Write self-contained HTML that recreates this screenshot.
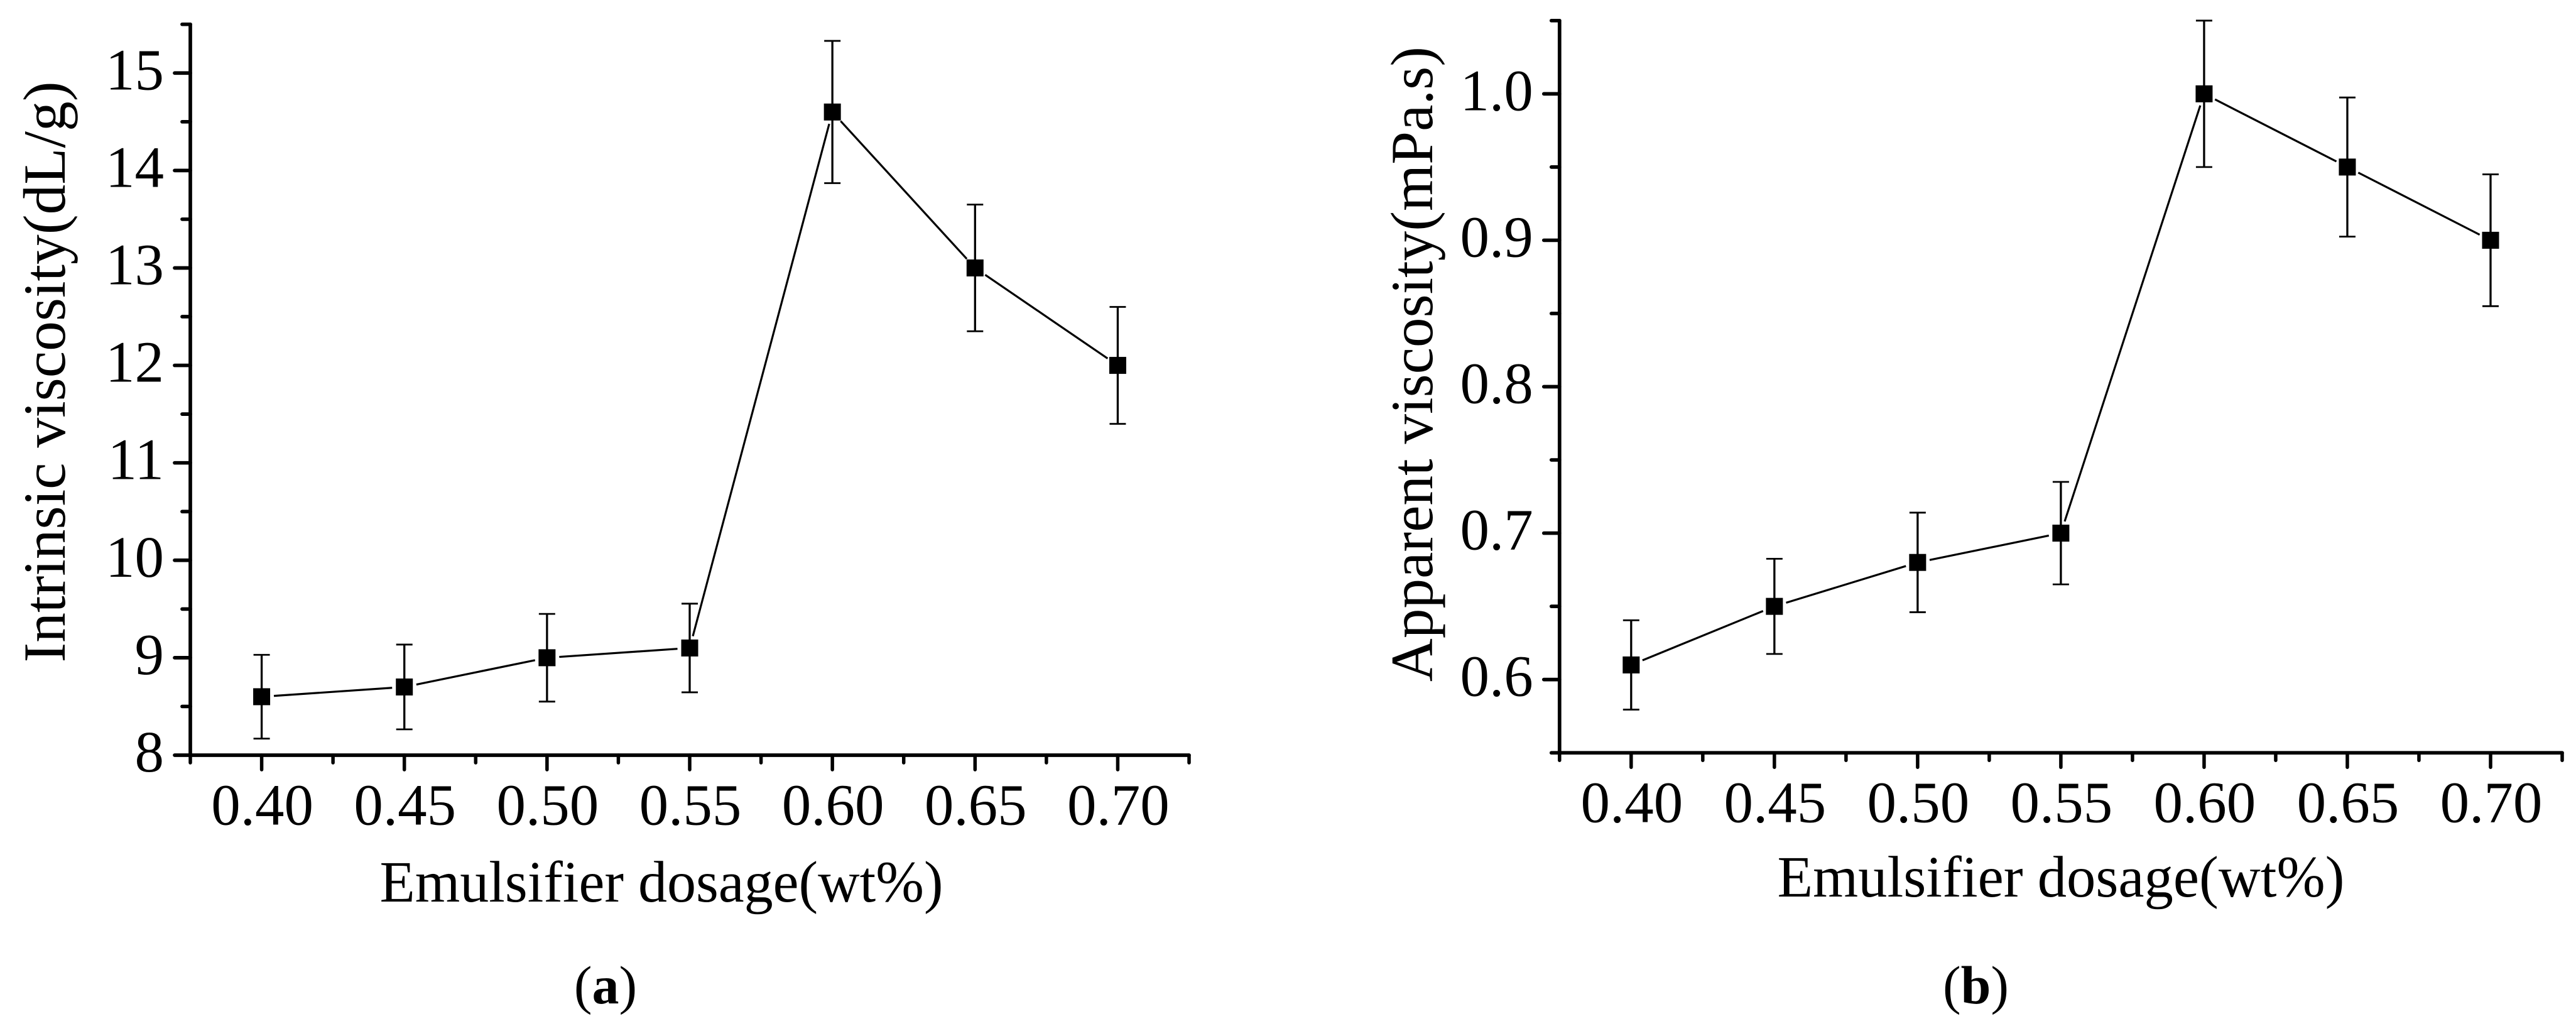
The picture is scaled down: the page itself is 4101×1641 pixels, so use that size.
<!DOCTYPE html>
<html lang="en">
<head>
<meta charset="utf-8">
<title>Viscosity vs emulsifier dosage</title>
<style>
  html, body { margin: 0; padding: 0; background: #fff; }
  svg { display: block; }
  text { font-family: "Liberation Serif", "Times New Roman", serif; fill: #000; }
</style>
</head>
<body>
<svg id="figure" xmlns="http://www.w3.org/2000/svg" width="4101" height="1641" viewBox="0 0 4101 1641">
  <rect x="0" y="0" width="4101" height="1641" fill="#fff"/>
  <g id="panel-a">
    <text transform="translate(103 592) rotate(-90)" text-anchor="middle" font-size="95" textLength="925" lengthAdjust="spacingAndGlyphs">Intrinsic viscosity(dL/g)</text>
    <text x="1053" y="1435" text-anchor="middle" font-size="93" textLength="897" lengthAdjust="spacingAndGlyphs">Emulsifier dosage(wt%)</text>
    <text x="964" y="1597" text-anchor="middle" font-size="86">(<tspan font-weight="bold">a</tspan>)</text>
  </g>
  <g id="panel-b">
    <text transform="translate(2280 579.5) rotate(-90)" text-anchor="middle" font-size="95" textLength="1011" lengthAdjust="spacingAndGlyphs">Apparent viscosity(mPa.s)</text>
    <text x="3281" y="1427" text-anchor="middle" font-size="93" textLength="903" lengthAdjust="spacingAndGlyphs">Emulsifier dosage(wt%)</text>
    <text x="3145.5" y="1597" text-anchor="middle" font-size="86">(<tspan font-weight="bold">b</tspan>)</text>
  </g>
</svg>
<script>
const dosageCategories = [0.40, 0.45, 0.50, 0.55, 0.60, 0.65, 0.70];
const xTickLabels = ["0.40", "0.45", "0.50", "0.55", "0.60", "0.65", "0.70"];
const xMinorValues = [0.375, 0.425, 0.475, 0.525, 0.575, 0.625, 0.675, 0.725];

const intrinsicViscosity = [8.6, 8.7, 9.0, 9.1, 14.6, 13.0, 12.0];
const intrinsicError = [0.43, 0.435, 0.45, 0.455, 0.73, 0.65, 0.60];
const intrinsicTickValues = [8, 9, 10, 11, 12, 13, 14, 15];
const intrinsicTickLabels = ["8", "9", "10", "11", "12", "13", "14", "15"];
const intrinsicMinorValues = [8.5, 9.5, 10.5, 11.5, 12.5, 13.5, 14.5, 15.5];

const apparentViscosity = [0.61, 0.65, 0.68, 0.70, 1.00, 0.95, 0.90];
const apparentError = [0.0305, 0.0325, 0.034, 0.035, 0.05, 0.0475, 0.045];
const apparentTickValues = [0.6, 0.7, 0.8, 0.9, 1.0];
const apparentTickLabels = ["0.6", "0.7", "0.8", "0.9", "1.0"];
const apparentMinorValues = [0.55, 0.65, 0.75, 0.85, 0.95, 1.05];

const SVG_NS = "http://www.w3.org/2000/svg";

function addLine(parent, x1, y1, x2, y2, width, rounded) {
  const el = document.createElementNS(SVG_NS, "line");
  el.setAttribute("x1", x1);
  el.setAttribute("y1", y1);
  el.setAttribute("x2", x2);
  el.setAttribute("y2", y2);
  el.setAttribute("stroke", "#000");
  el.setAttribute("stroke-width", width);
  if (rounded) el.setAttribute("stroke-linecap", "round");
  parent.appendChild(el);
  return el;
}

function drawPanel(panel, cfg) {
  const xScale = v => cfg.x0 + (v - cfg.xMin) / (cfg.xMax - cfg.xMin) * (cfg.x1 - cfg.x0);
  const yScale = v => cfg.y0 + (v - cfg.yMin) / (cfg.yMax - cfg.yMin) * (cfg.y1 - cfg.y0);
  const axisY = yScale(cfg.yMin);
  const axisX = xScale(cfg.xMin);

  // y axis
  const yAxis = addLine(panel, axisX, yScale(cfg.yMax), axisX, axisY, 5.7, true);
  
  
  cfg.yTicks.forEach((v, i) => {
    const tick = addLine(panel, axisX - 25, yScale(v), axisX, yScale(v), 5.7, true);
    
    
    const label = document.createElementNS(SVG_NS, "text");
    label.setAttribute("x", axisX - 42);
    label.setAttribute("y", yScale(v) + 26);
    label.setAttribute("text-anchor", "end");
    label.setAttribute("font-size", "93");
    label.textContent = cfg.yLabels[i];
    
    
    panel.appendChild(label);
  });
  cfg.yMinor.forEach(v => {
    const tick = addLine(panel, axisX - 13, yScale(v), axisX, yScale(v), 5.7, true);
    
    
  });

  // x axis
  const xAxis = addLine(panel, axisX, axisY, xScale(cfg.xMax), axisY, 5.7, true);
  
  
  dosageCategories.forEach((v, i) => {
    const tick = addLine(panel, xScale(v), axisY, xScale(v), axisY + 23, 5.5, true);
    
    
    const label = document.createElementNS(SVG_NS, "text");
    label.setAttribute("x", xScale(v) + 1);
    label.setAttribute("y", axisY + 110.5);
    label.setAttribute("text-anchor", "middle");
    label.setAttribute("font-size", "93");
    label.textContent = xTickLabels[i];
    
    
    panel.appendChild(label);
  });
  xMinorValues.forEach(v => {
    const tick = addLine(panel, xScale(v), axisY, xScale(v), axisY + 12, 5.5, true);
    
    
  });

  // connecting line segments, with a gap around each marker
  const gap = 19.5;
  for (let i = 0; i < dosageCategories.length - 1; i++) {
    const ax = xScale(dosageCategories[i]), ay = yScale(cfg.values[i]);
    const bx = xScale(dosageCategories[i + 1]), by = yScale(cfg.values[i + 1]);
    const len = Math.hypot(bx - ax, by - ay);
    const ux = (bx - ax) / len, uy = (by - ay) / len;
    const seg = addLine(panel, ax + ux * gap, ay + uy * gap, bx - ux * gap, by - uy * gap, 3.2, false);
    
    
  }

  // error bars and markers
  dosageCategories.forEach((v, i) => {
    const cx = xScale(v), cy = yScale(cfg.values[i]);
    const top = yScale(cfg.values[i] + cfg.errors[i]);
    const bottom = yScale(cfg.values[i] - cfg.errors[i]);
    const stem = addLine(panel, cx, top, cx, bottom, 3.3, false);
    
    
    const capTop = addLine(panel, cx - 13, top, cx + 13, top, 2.8, false);
    
    
    const capBottom = addLine(panel, cx - 13, bottom, cx + 13, bottom, 2.8, false);
    
    
    const marker = document.createElementNS(SVG_NS, "rect");
    marker.setAttribute("x", cx - 13.5);
    marker.setAttribute("y", cy - 13.5);
    marker.setAttribute("width", 27);
    marker.setAttribute("height", 27);
    marker.setAttribute("fill", "#000");
    
    
    panel.appendChild(marker);
  });
}

drawPanel(document.getElementById("panel-a"), {
  values: intrinsicViscosity, errors: intrinsicError,
  yTicks: intrinsicTickValues, yLabels: intrinsicTickLabels, yMinor: intrinsicMinorValues,
  xMin: 0.375, xMax: 0.725, x0: 303, x1: 1893,
  yMin: 8, yMax: 15.5, y0: 1202, y1: 38.7
});

drawPanel(document.getElementById("panel-b"), {
  values: apparentViscosity, errors: apparentError,
  yTicks: apparentTickValues, yLabels: apparentTickLabels, yMinor: apparentMinorValues,
  xMin: 0.375, xMax: 0.725, x0: 2482.8, x1: 4079,
  yMin: 0.55, yMax: 1.05, y0: 1198.2, y1: 32.8
});
</script>
</body>
</html>
